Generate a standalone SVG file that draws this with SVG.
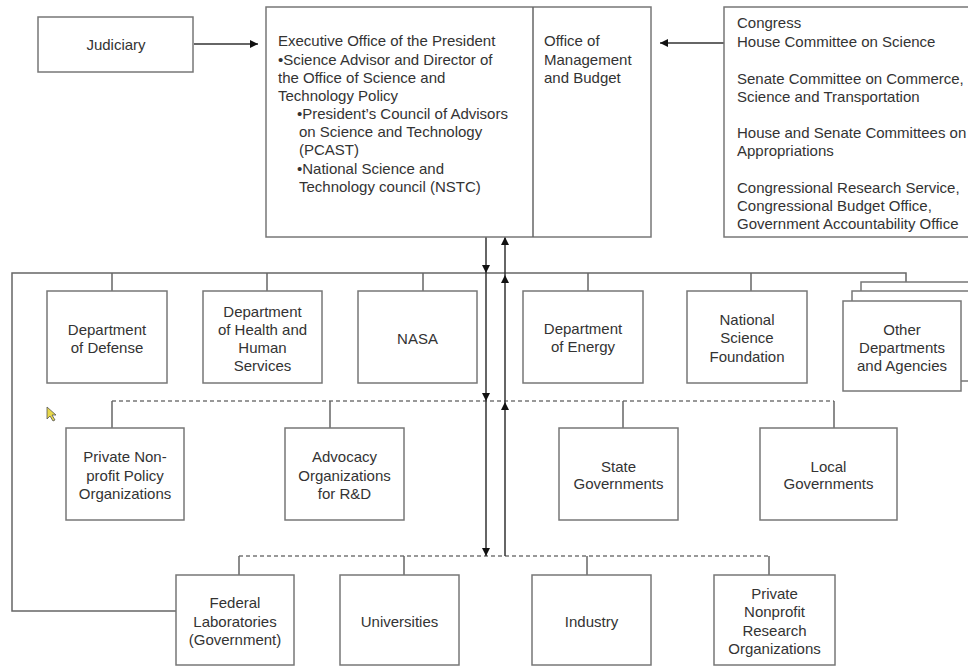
<svg xmlns="http://www.w3.org/2000/svg" width="968" height="666" viewBox="0 0 968 666">
<style>
.box{fill:#fff;stroke:#777;stroke-width:1.5}
.t{font-family:"Liberation Sans",Arial,sans-serif;font-size:15px;fill:#333}
.c{text-anchor:middle}
.ln{fill:none;stroke:#666;stroke-width:1.5}
.dash{fill:none;stroke:#777;stroke-width:1.3;stroke-dasharray:4 3}
.arr{fill:none;stroke:#333;stroke-width:1.5;marker-end:url(#ah)}
</style>
<defs>
<marker id="ah" viewBox="0 0 10 10" refX="10" refY="5" markerUnits="userSpaceOnUse" markerWidth="9" markerHeight="8" orient="auto">
<path d="M0,0 L10,5 L0,10 z" fill="#111"/>
</marker>
</defs>
<rect width="968" height="666" fill="#fff"/>

<g id="connectors">
<line class="arr" x1="194" y1="44" x2="258" y2="44"/>
<line class="arr" x1="724" y1="43" x2="660" y2="43"/>
<polyline class="ln" points="176,611 12,611 12,273 906,273 906,282"/>
<line class="ln" x1="112" y1="273" x2="112" y2="291"/>
<line class="ln" x1="267" y1="273" x2="267" y2="291"/>
<line class="ln" x1="423" y1="273" x2="423" y2="291"/>
<line class="ln" x1="588" y1="273" x2="588" y2="291"/>
<line class="ln" x1="751" y1="273" x2="751" y2="291"/>
<line class="dash" x1="112" y1="401" x2="834" y2="401"/>
<line class="ln" x1="112" y1="401" x2="112" y2="428"/>
<line class="ln" x1="330" y1="401" x2="330" y2="428"/>
<line class="ln" x1="623" y1="401" x2="623" y2="428"/>
<line class="ln" x1="834" y1="401" x2="834" y2="428"/>
<line class="dash" x1="239" y1="556" x2="769" y2="556"/>
<line class="ln" x1="239" y1="556" x2="239" y2="575"/>
<line class="ln" x1="404" y1="556" x2="404" y2="575"/>
<line class="ln" x1="587" y1="556" x2="587" y2="575"/>
<line class="ln" x1="769" y1="556" x2="769" y2="575"/>
<line class="arr" x1="486" y1="237" x2="486" y2="273"/>
<line class="arr" x1="486" y1="273" x2="486" y2="401"/>
<line class="arr" x1="486" y1="401" x2="486" y2="556"/>
<line class="arr" x1="505" y1="556" x2="505" y2="402"/>
<line class="arr" x1="505" y1="402" x2="505" y2="275"/>
<line class="arr" x1="505" y1="275" x2="505" y2="237"/>
</g>

<g id="judiciary">
<rect class="box" x="38" y="17" width="155" height="55"/>
<text class="t c" x="116" y="50">Judiciary</text>
</g>

<g id="eop">
<rect class="box" x="266" y="7" width="385" height="230"/>
<text class="t" x="278" y="46">Executive Office of the President</text>
<text class="t" x="278" y="64.5">•Science Advisor and Director of</text>
<text class="t" x="278" y="82.5">the Office of Science and</text>
<text class="t" x="278" y="100.5">Technology Policy</text>
<text class="t" x="297" y="118.5">•President’s Council of Advisors</text>
<text class="t" x="299" y="137">on Science and Technology</text>
<text class="t" x="299" y="155">(PCAST)</text>
<text class="t" x="297" y="173.5">•National Science and</text>
<text class="t" x="299" y="191.5">Technology council (NSTC)</text>
</g>

<g id="omb">
<line class="ln" x1="533" y1="7" x2="533" y2="237"/>
<text class="t" x="544" y="46">Office of</text>
<text class="t" x="544" y="64.5">Management</text>
<text class="t" x="544" y="82.5">and Budget</text>
</g>

<g id="congress">
<rect class="box" x="724" y="7" width="260" height="230"/>
<text class="t" x="737" y="28">Congress</text>
<text class="t" x="737" y="46.5">House Committee on Science</text>
<text class="t" x="737" y="83.5">Senate Committee on Commerce,</text>
<text class="t" x="737" y="101.5">Science and Transportation</text>
<text class="t" x="737" y="137.5">House and Senate Committees on</text>
<text class="t" x="737" y="156">Appropriations</text>
<text class="t" x="737" y="192.5">Congressional Research Service,</text>
<text class="t" x="737" y="211">Congressional Budget Office,</text>
<text class="t" x="737" y="229">Government Accountability Office</text>
</g>

<g id="dod">
<rect class="box" x="47" y="291" width="120" height="92"/>
<text class="t c" x="107" y="335">Department</text>
<text class="t c" x="107" y="353">of Defense</text>
</g>

<g id="hhs">
<rect class="box" x="203" y="291" width="119" height="92"/>
<text class="t c" x="262.5" y="316.5">Department</text>
<text class="t c" x="262.5" y="335">of Health and</text>
<text class="t c" x="262.5" y="353">Human</text>
<text class="t c" x="262.5" y="370.5">Services</text>
</g>

<g id="nasa">
<rect class="box" x="358" y="291" width="119" height="92"/>
<text class="t c" x="417.5" y="344">NASA</text>
</g>

<g id="doe">
<rect class="box" x="523" y="291" width="120" height="92"/>
<text class="t c" x="583" y="334">Department</text>
<text class="t c" x="583" y="352">of Energy</text>
</g>

<g id="nsf">
<rect class="box" x="687" y="291" width="120" height="92"/>
<text class="t c" x="747" y="325">National</text>
<text class="t c" x="747" y="343">Science</text>
<text class="t c" x="747" y="362">Foundation</text>
</g>

<g id="other">
<rect class="box" x="861" y="282" width="118" height="90"/>
<rect class="box" x="852" y="291" width="118" height="90"/>
<rect class="box" x="843" y="301" width="118" height="90"/>
<text class="t c" x="902" y="335">Other</text>
<text class="t c" x="902" y="352.5">Departments</text>
<text class="t c" x="902" y="371">and Agencies</text>
</g>

<g id="private-policy">
<rect class="box" x="66" y="428" width="118" height="92"/>
<text class="t c" x="125" y="462">Private Non-</text>
<text class="t c" x="125" y="481">profit Policy</text>
<text class="t c" x="125" y="499">Organizations</text>
</g>

<g id="advocacy">
<rect class="box" x="285" y="428" width="119" height="92"/>
<text class="t c" x="344.5" y="462">Advocacy</text>
<text class="t c" x="344.5" y="481">Organizations</text>
<text class="t c" x="344.5" y="499">for R&amp;D</text>
</g>

<g id="state">
<rect class="box" x="559" y="428" width="119" height="92"/>
<text class="t c" x="618.5" y="472">State</text>
<text class="t c" x="618.5" y="489">Governments</text>
</g>

<g id="local">
<rect class="box" x="760" y="428" width="137" height="92"/>
<text class="t c" x="828.5" y="472">Local</text>
<text class="t c" x="828.5" y="489">Governments</text>
</g>

<g id="federal-labs">
<rect class="box" x="176" y="575" width="118" height="90"/>
<text class="t c" x="235" y="608">Federal</text>
<text class="t c" x="235" y="627">Laboratories</text>
<text class="t c" x="235" y="645">(Government)</text>
</g>

<g id="universities">
<rect class="box" x="340" y="575" width="119" height="90"/>
<text class="t c" x="399.5" y="627">Universities</text>
</g>

<g id="industry">
<rect class="box" x="532" y="575" width="119" height="90"/>
<text class="t c" x="591.5" y="627">Industry</text>
</g>

<g id="private-research">
<rect class="box" x="714" y="575" width="121" height="90"/>
<text class="t c" x="774.5" y="599">Private</text>
<text class="t c" x="774.5" y="617">Nonprofit</text>
<text class="t c" x="774.5" y="636">Research</text>
<text class="t c" x="774.5" y="654">Organizations</text>
</g>

<path d="M47,407 L47,419 L50,416 L53,421 L55,420 L52,415 L56,415 Z" fill="#e8d84a" stroke="#555" stroke-width="0.8"/>
</svg>
